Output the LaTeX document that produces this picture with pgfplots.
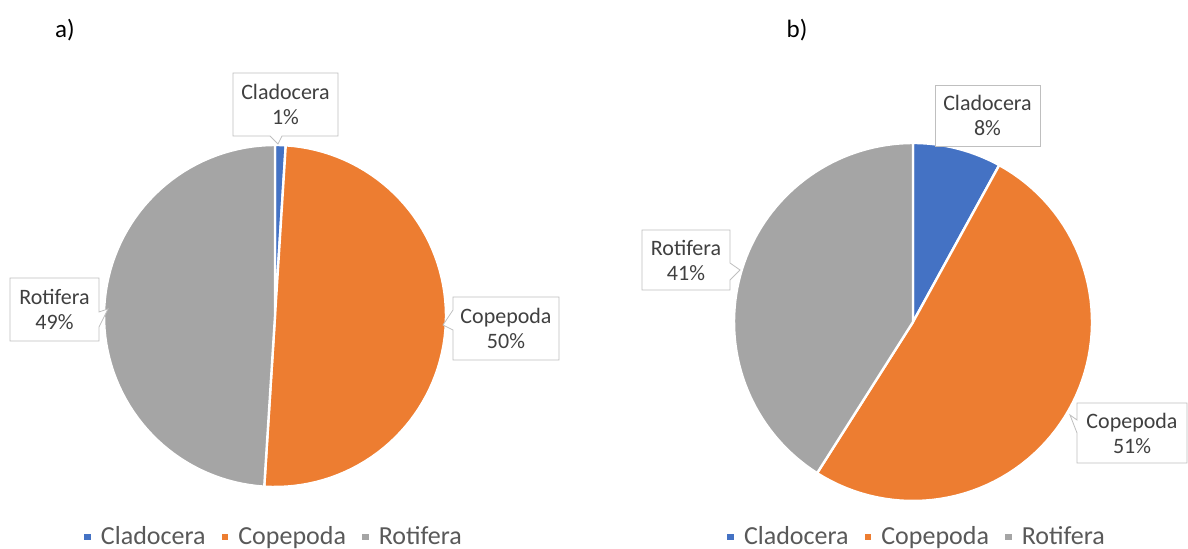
\documentclass[border=0pt]{standalone}
\usepackage{pgfplots}
\pgfplotsset{compat=1.18}
\usepackage{fontspec}
\setmainfont{Carlito}
\definecolor{cBlue}{HTML}{4472C4}
\definecolor{cOrange}{HTML}{ED7D31}
\definecolor{cGray}{HTML}{A5A5A5}
\definecolor{txt}{HTML}{404040}
\definecolor{lg}{HTML}{595959}
\definecolor{bx}{HTML}{BFBFBF}
\pgfplotsset{
  pieslice/.style={draw=white, line width=1.2pt, samples=72, variable=\t},
  piebase/.style={x=0.5pt, y=0.5pt, ymin=0, ymax=549, hide axis, clip=false,
    legend columns=3,
    legend style={draw=none, fill=none, text=lg, font=\fontsize{13}{15}\selectfont,
      /tikz/every even column/.append style={column sep=6pt}},
  },
}
\tikzset{boxlbl/.style={text=txt, align=center, font=\fontsize{11}{12.5}\selectfont}}
% data (percent)
\def\aCla{1}\def\aCop{50}\def\aRot{49}
\def\bCla{8}\def\bCop{51}\def\bRot{41}
\pgfmathsetmacro{\aA}{90-3.6*\aCla}
\pgfmathsetmacro{\aB}{\aA-3.6*\aCop}
\pgfmathsetmacro{\aC}{\aB-3.6*\aRot}
\pgfmathsetmacro{\bA}{90-3.6*\bCla}
\pgfmathsetmacro{\bB}{\bA-3.6*\bCop}
\pgfmathsetmacro{\bC}{\bB-3.6*\bRot}
\begin{document}
\begin{tikzpicture}
\begin{axis}[piebase, at={(0,0)}, anchor=south west, xmin=0, xmax=594,
  legend style={at={(axis cs:275,12)}, anchor=center},
  legend image code/.code={\fill[#1,draw=none] (0pt,-1.7pt) rectangle (3.4pt,1.7pt);}]
\addplot[pieslice, fill=cBlue, domain=\aA:90] ({275+171*cos(\t)}, {233+171*sin(\t)}) -- (axis cs:275,233) -- cycle;
\addplot[pieslice, fill=cOrange, domain=\aB:\aA] ({275+171*cos(\t)}, {233+171*sin(\t)}) -- (axis cs:275,233) -- cycle;
\addplot[pieslice, fill=cGray, domain=\aC:\aB] ({275+171*cos(\t)}, {233+171*sin(\t)}) -- (axis cs:275,233) -- cycle;
\legend{\hspace{3pt}Cladocera, \hspace{3pt}Copepoda, \hspace{3pt}Rotifera}
\draw[bx, fill=white] (axis cs:233,476) -- (axis cs:338,476) -- (axis cs:338,413) -- (axis cs:282,413) -- (axis cs:278,405) -- (axis cs:270,413) -- (axis cs:233,413) -- cycle;
\node[boxlbl] at (axis cs:285.5,444.5) {Cladocera\\1\%};
\draw[bx, fill=white] (axis cs:10,271) -- (axis cs:99,271) -- (axis cs:99,237) -- (axis cs:108,240) -- (axis cs:99,222) -- (axis cs:99,208) -- (axis cs:10,208) -- cycle;
\node[boxlbl] at (axis cs:54.5,239.5) {Rotifera\\49\%};
\draw[bx, fill=white] (axis cs:453,252) -- (axis cs:559,252) -- (axis cs:559,189) -- (axis cs:453,189) -- (axis cs:453,219) -- (axis cs:443,224) -- (axis cs:453,239) -- cycle;
\node[boxlbl] at (axis cs:506,220.5) {Copepoda\\50\%};
\node[font=\fontsize{12.5}{14}\selectfont] at (axis cs:65,519) {a)};
\end{axis}
\begin{axis}[piebase, at={(297pt,0)}, anchor=south west, xmin=594, xmax=1188,
  legend style={at={(axis cs:918,12)}, anchor=center},
  legend image code/.code={\fill[#1,draw=none] (0pt,-1.7pt) rectangle (3.4pt,1.7pt);}]
\addplot[pieslice, fill=cBlue, domain=\bA:90] ({913+179*cos(\t)}, {227+179*sin(\t)}) -- (axis cs:913,227) -- cycle;
\addplot[pieslice, fill=cOrange, domain=\bB:\bA] ({913+179*cos(\t)}, {227+179*sin(\t)}) -- (axis cs:913,227) -- cycle;
\addplot[pieslice, fill=cGray, domain=\bC:\bB] ({913+179*cos(\t)}, {227+179*sin(\t)}) -- (axis cs:913,227) -- cycle;
\legend{\hspace{3pt}Cladocera, \hspace{3pt}Copepoda, \hspace{3pt}Rotifera}
\draw[bx, fill=white] (axis cs:935,464) -- (axis cs:1040,464) -- (axis cs:1040,403) -- (axis cs:935,403) -- cycle;
\node[boxlbl] at (axis cs:987.5,433.5) {Cladocera\\8\%};
\draw[bx, fill=white] (axis cs:1077,146) -- (axis cs:1187,146) -- (axis cs:1187,86) -- (axis cs:1077,86) -- (axis cs:1077,116) -- (axis cs:1070,134) -- (axis cs:1077,129) -- cycle;
\node[boxlbl] at (axis cs:1132,116) {Copepoda\\51\%};
\draw[bx, fill=white] (axis cs:642,319) -- (axis cs:730,319) -- (axis cs:730,286) -- (axis cs:740,279) -- (axis cs:730,269) -- (axis cs:730,259) -- (axis cs:642,259) -- cycle;
\node[boxlbl] at (axis cs:686,289) {Rotifera\\41\%};
\node[font=\fontsize{12.5}{14}\selectfont] at (axis cs:797,519) {b)};
\end{axis}
\pgfresetboundingbox
\path (0,0) rectangle (594pt,274.5pt);
\end{tikzpicture}
\end{document}
